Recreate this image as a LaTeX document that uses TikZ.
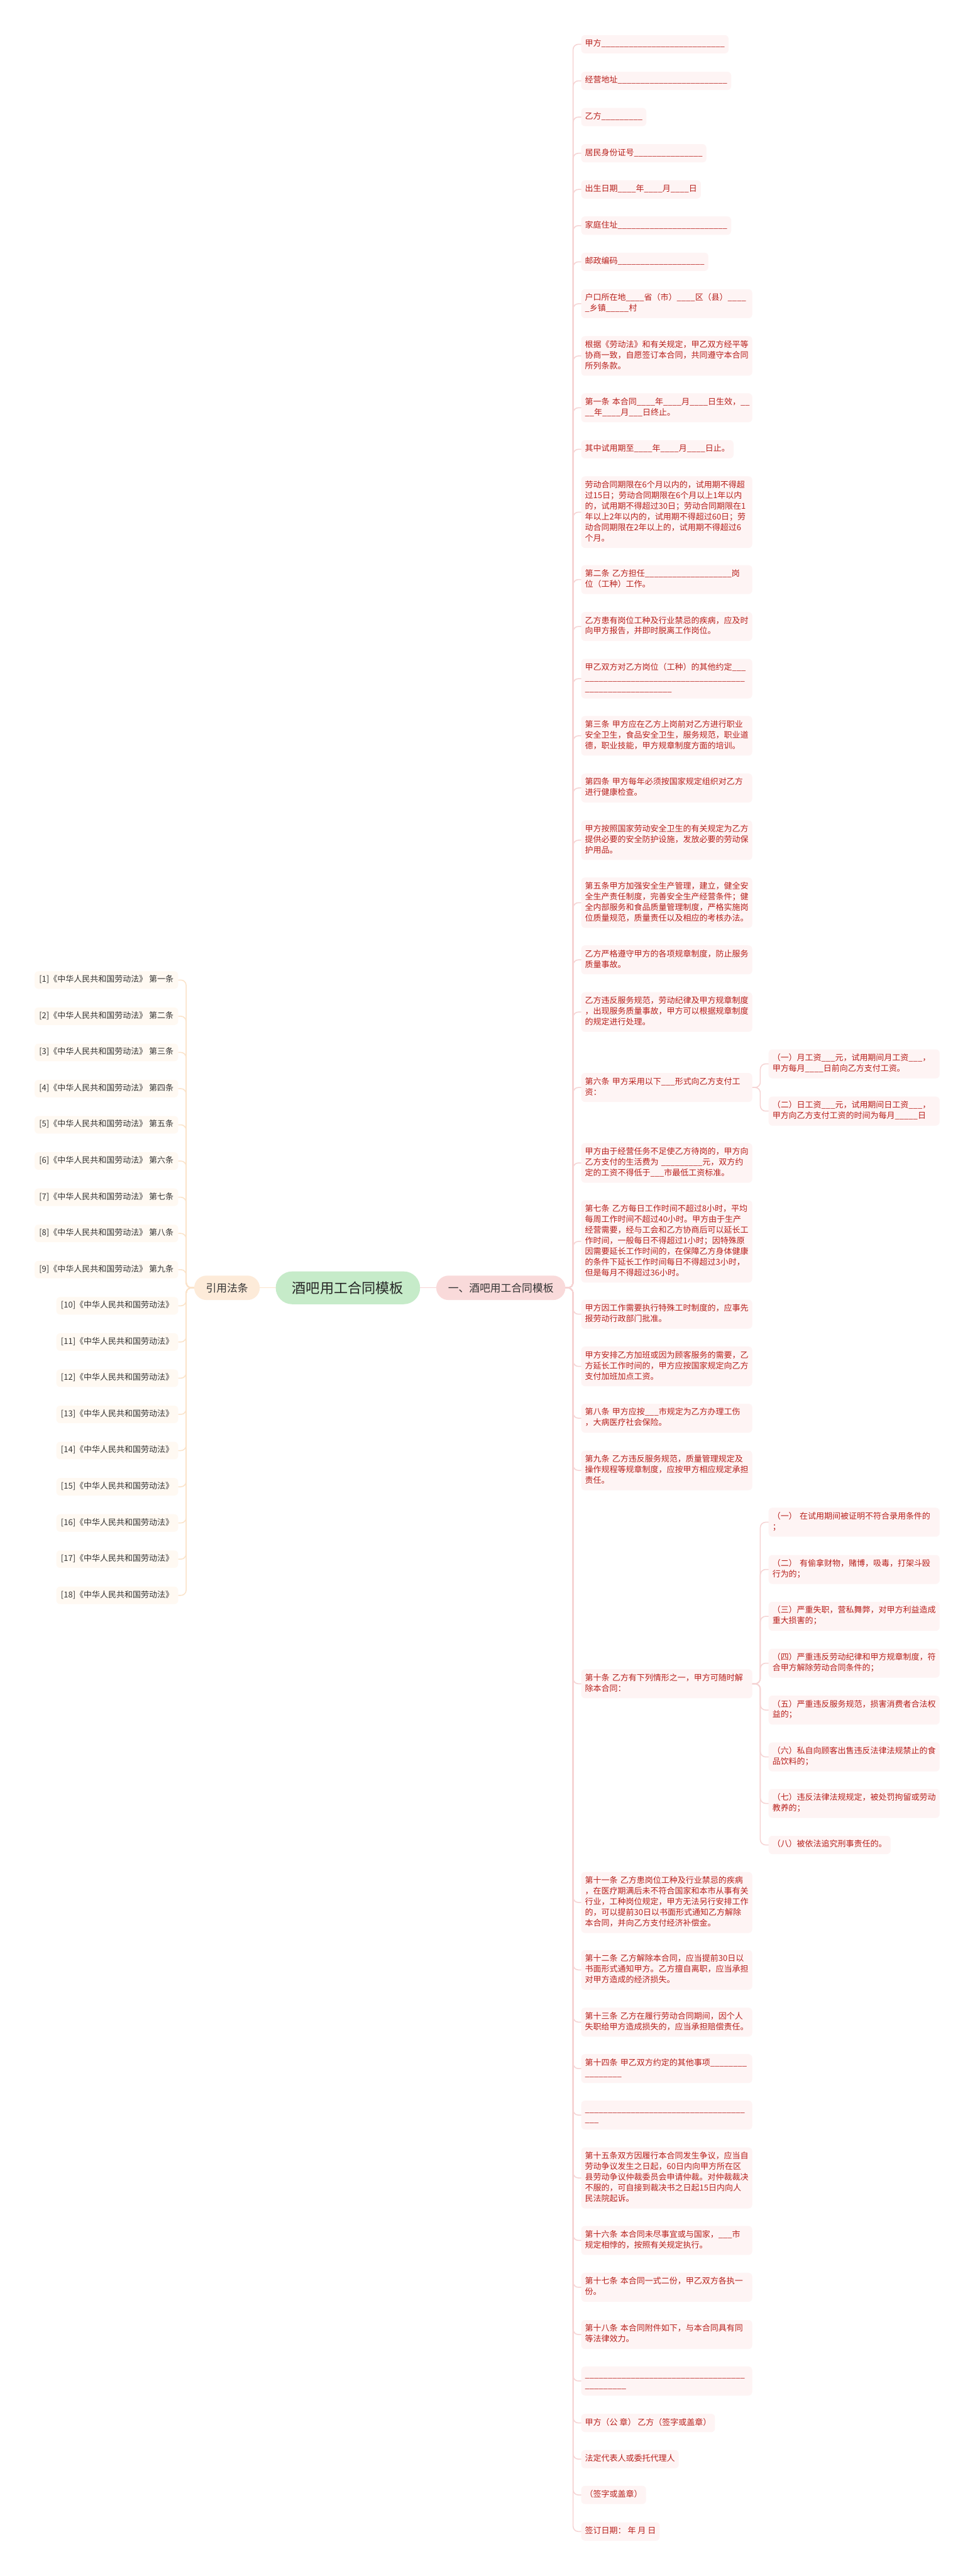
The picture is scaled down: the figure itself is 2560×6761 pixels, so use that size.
\documentclass[tikz,border=0pt]{standalone}
\usepackage{fontspec}
\setmainfont{Noto Sans CJK SC}
\ExplSyntaxOn
\cs_new:Npn \us #1 {\prg_replicate:nn {#1} {\textunderscore}}
\ExplSyntaxOff
\newcommand\nl{\\\strut}
\definecolor{rtxt}{HTML}{B8201C}
\definecolor{rfill}{HTML}{FEF4F4}
\definecolor{rline}{HTML}{F6D3D3}
\definecolor{mainfill}{HTML}{F9DADA}
\definecolor{rootfill}{HTML}{C6EBC9}
\definecolor{citefill}{HTML}{FDEBD9}
\definecolor{lfill}{HTML}{FFF9F2}
\definecolor{lline}{HTML}{FBE3C9}
\definecolor{ltxt}{HTML}{333333}
\tikzset{
  x=1pt, y=-1pt,
  basefont/.style={font=\fontsize{21.45}{28}\selectfont},
  rbox/.style={basefont, text=rtxt, fill=rfill, rounded corners=10pt,
    inner xsep=10pt, inner ysep=10pt, anchor=north west, align=left},
  rwide/.style={rbox, text width=429pt},
  lbox/.style={basefont, text=ltxt, fill=lfill, rounded corners=10pt,
    inner xsep=12pt, inner ysep=9pt, anchor=north east, align=left},
  rconn/.style={draw=rline, line width=2.5pt, rounded corners=14pt},
  lconn/.style={draw=lline, line width=2.5pt, rounded corners=14pt},
  pill/.style={rounded corners=32pt, minimum height=64pt, inner sep=0pt, text=ltxt},
}
\begin{document}
\begin{tikzpicture}
\useasboundingbox[fill=white] (0,0) rectangle (2560,6761);

% central nodes
\node[fill=rootfill, rounded corners=43pt, minimum width=379pt, minimum height=86pt, inner sep=0pt,
  font=\fontsize{36.6}{44}\selectfont, text=black!85] (root) at (913.5,3380) {酒吧用工合同模板};
\node[pill, fill=mainfill, minimum width=339pt, font=\fontsize{27.7}{34}\selectfont] (main) at (1315,3380) {一、酒吧用工合同模板};
\node[pill, fill=citefill, minimum width=172pt, font=\fontsize{27.7}{34}\selectfont] (cite) at (596,3380) {引用法条};

% right column
\node[rbox] (r1) at (1526,92) {\strut 甲方\us{27}};
\node[rbox] (r2) at (1526,188) {\strut 经营地址\us{24}};
\node[rbox] (r3) at (1526,283) {\strut 乙方\us{9}};
\node[rbox] (r4) at (1526,378) {\strut 居民身份证号\us{15}};
\node[rbox] (r5) at (1526,473) {\strut 出生日期\us{4}年\us{4}月\us{4}日};
\node[rbox] (r6) at (1526,568) {\strut 家庭住址\us{24}};
\node[rbox] (r7) at (1526,663) {\strut 邮政编码\us{19}};
\node[rwide] (r8) at (1526,759) {\strut 户口所在地\us{4}省（市）\us{4}区（县）\us{4}\nl\us{1}乡镇\us{5}村};
\node[rwide] (r9) at (1526,882) {\strut 根据《劳动法》和有关规定，甲乙双方经平等\nl 协商一致，自愿签订本合同，共同遵守本合同\nl 所列条款。};
\node[rwide] (r10) at (1526,1032) {\strut 第一条~本合同\us{4}年\us{4}月\us{4}日生效，\us{2}\nl\us{2}年\us{4}月\us{3}日终止。};
\node[rbox] (r11) at (1526,1155) {\strut 其中试用期至\us{4}年\us{4}月\us{4}日止。};
\node[rwide] (r12) at (1526,1250) {\strut 劳动合同期限在6个月以内的，试用期不得超\nl 过15日；劳动合同期限在6个月以上1年以内\nl 的，试用期不得超过30日；劳动合同期限在1\nl 年以上2年以内的，试用期不得超过60日；劳\nl 动合同期限在2年以上的，试用期不得超过6\nl 个月。};
\node[rwide] (r13) at (1526,1483) {\strut 第二条~乙方担任\us{19}岗\nl 位（工种）工作。};
\node[rwide] (r14) at (1526,1606) {\strut 乙方患有岗位工种及行业禁忌的疾病，应及时\nl 向甲方报告，并即时脱离工作岗位。};
\node[rwide] (r15) at (1526,1729) {\strut 甲乙双方对乙方岗位（工种）的其他约定\us{3}\nl\us{35}\nl\us{19}};
\node[rwide] (r16) at (1526,1879) {\strut 第三条~甲方应在乙方上岗前对乙方进行职业\nl 安全卫生，食品安全卫生，服务规范，职业道\nl 德，职业技能，甲方规章制度方面的培训。};
\node[rwide] (r17) at (1526,2030) {\strut 第四条~甲方每年必须按国家规定组织对乙方\nl 进行健康检查。};
\node[rwide] (r18) at (1526,2153) {\strut 甲方按照国家劳动安全卫生的有关规定为乙方\nl 提供必要的安全防护设施，发放必要的劳动保\nl 护用品。};
\node[rwide] (r19) at (1526,2303) {\strut 第五条甲方加强安全生产管理，建立，健全安\nl 全生产责任制度，完善安全生产经营条件；健\nl 全内部服务和食品质量管理制度，严格实施岗\nl 位质量规范，质量责任以及相应的考核办法。};
\node[rwide] (r20) at (1526,2481) {\strut 乙方严格遵守甲方的各项规章制度，防止服务\nl 质量事故。};
\node[rwide] (r21) at (1526,2604) {\strut 乙方违反服务规范，劳动纪律及甲方规章制度\nl ，出现服务质量事故，甲方可以根据规章制度\nl 的规定进行处理。};
\node[rwide] (r22) at (1526,2816) {\strut 第六条~甲方采用以下\us{3}形式向乙方支付工\nl 资：};
\node[rwide] (s6a) at (2018,2754) {\strut （一）月工资\us{3}元，试用期间月工资\us{3}，\nl 甲方每月\us{4}日前向乙方支付工资。};
\node[rwide] (s6b) at (2018,2878) {\strut （二）日工资\us{3}元，试用期间日工资\us{3}，\nl 甲方向乙方支付工资的时间为每月\us{5}日};
\node[rwide] (r23) at (1526,3000) {\strut 甲方由于经营任务不足使乙方待岗的，甲方向\nl 乙方支付的生活费为~\us{9}元，双方约\nl 定的工资不得低于\us{3}市最低工资标准。};
\node[rwide] (r24) at (1526,3150) {\strut 第七条~乙方每日工作时间不超过8小时，平均\nl 每周工作时间不超过40小时。甲方由于生产\nl 经营需要，经与工会和乙方协商后可以延长工\nl 作时间，一般每日不得超过1小时；因特殊原\nl 因需要延长工作时间的，在保障乙方身体健康\nl 的条件下延长工作时间每日不得超过3小时，\nl 但是每月不得超过36小时。};
\node[rwide] (r25) at (1526,3411) {\strut 甲方因工作需要执行特殊工时制度的，应事先\nl 报劳动行政部门批准。};
\node[rwide] (r26) at (1526,3534) {\strut 甲方安排乙方加班或因为顾客服务的需要，乙\nl 方延长工作时间的，甲方应按国家规定向乙方\nl 支付加班加点工资。};
\node[rwide] (r27) at (1526,3684) {\strut 第八条~甲方应按\us{3}市规定为乙方办理工伤\nl ，大病医疗社会保险。};
\node[rwide] (r28) at (1526,3807) {\strut 第九条~乙方违反服务规范，质量管理规定及\nl 操作规程等规章制度，应按甲方相应规定承担\nl 责任。};
\node[rwide] (r29) at (1526,4381) {\strut 第十条~乙方有下列情形之一，甲方可随时解\nl 除本合同：};
\node[rwide] (s10a) at (2018,3957) {\strut （一）~在试用期间被证明不符合录用条件的\nl ；};
\node[rwide] (s10b) at (2018,4081) {\strut （二）~有偷拿财物，赌博，吸毒，打架斗殴\nl 行为的；};
\node[rwide] (s10c) at (2018,4204) {\strut （三）严重失职，营私舞弊，对甲方利益造成\nl 重大损害的；};
\node[rwide] (s10d) at (2018,4327) {\strut （四）严重违反劳动纪律和甲方规章制度，符\nl 合甲方解除劳动合同条件的；};
\node[rwide] (s10e) at (2018,4450) {\strut （五）严重违反服务规范，损害消费者合法权\nl 益的；};
\node[rwide] (s10f) at (2018,4573) {\strut （六）私自向顾客出售违反法律法规禁止的食\nl 品饮料的；};
\node[rwide] (s10g) at (2018,4695) {\strut （七）违反法律法规规定，被处罚拘留或劳动\nl 教养的；};
\node[rbox] (s10h) at (2018,4818) {\strut （八）被依法追究刑事责任的。};
\node[rwide] (r30) at (1526,4913) {\strut 第十一条~乙方患岗位工种及行业禁忌的疾病\nl ，在医疗期满后未不符合国家和本市从事有关\nl 行业，工种岗位规定，甲方无法另行安排工作\nl 的，可以提前30日以书面形式通知乙方解除\nl 本合同，并向乙方支付经济补偿金。};
\node[rwide] (r31) at (1526,5118) {\strut 第十二条~乙方解除本合同，应当提前30日以\nl 书面形式通知甲方。乙方擅自离职，应当承担\nl 对甲方造成的经济损失。};
\node[rwide] (r32) at (1526,5269) {\strut 第十三条~乙方在履行劳动合同期间，因个人\nl 失职给甲方造成损失的，应当承担赔偿责任。};
\node[rwide] (r33) at (1526,5391) {\strut 第十四条~甲乙双方约定的其他事项\us{8}\nl\us{8}};
\node[rwide] (r34) at (1526,5513) {\strut\us{35}\nl\us{3}};
\node[rwide] (r35) at (1526,5636) {\strut 第十五条双方因履行本合同发生争议，应当自\nl 劳动争议发生之日起，60日内向甲方所在区\nl 县劳动争议仲裁委员会申请仲裁。对仲裁裁决\nl 不服的，可自接到裁决书之日起15日内向人\nl 民法院起诉。};
\node[rwide] (r36) at (1526,5842) {\strut 第十六条~本合同未尽事宜或与国家，\us{3}市\nl 规定相悖的，按照有关规定执行。};
\node[rwide] (r37) at (1526,5965) {\strut 第十七条~本合同一式二份，甲乙双方各执一\nl 份。};
\node[rwide] (r38) at (1526,6089) {\strut 第十八条~本合同附件如下，与本合同具有同\nl 等法律效力。};
\node[rwide] (r39) at (1526,6211) {\strut\us{35}\nl\us{9}};
\node[rbox] (r40) at (1526,6335) {\strut 甲方（公~章）~乙方（签字或盖章）};
\node[rbox] (r41) at (1526,6430) {\strut 法定代表人或委托代理人};
\node[rbox] (r42) at (1526,6524) {\strut （签字或盖章）};
\node[rbox] (r43) at (1526,6620) {\strut 签订日期：~年~月~日};

% left column
\foreach \i/\t in {1/第一条,2/第二条,3/第三条,4/第四条,5/第五条,6/第六条,7/第七条,8/第八条,9/第九条}{
  \node[lbox] (l\i) at (468,{2549+95*(\i-1)}) {\strut[\i]《中华人民共和国劳动法》~\t};
}
\foreach \i in {10,...,18}{
  \node[lbox] (l\i) at (468,{2549+95*(\i-1)}) {\strut[\i]《中华人民共和国劳动法》};
}

% connectors
\foreach \i in {1,...,43}{
  \draw[rconn] (main.east) -- ++(20,0) |- (r\i.west);
}
\foreach \n in {s6a,s6b}{
  \draw[rconn] (r22.east) -- ++(21,0) |- (\n.west);
}
\foreach \n in {s10a,s10b,s10c,s10d,s10e,s10f,s10g,s10h}{
  \draw[rconn] (r29.east) -- ++(21,0) |- (\n.west);
}
\foreach \i in {1,...,18}{
  \draw[lconn] (cite.west) -- ++(-21,0) |- (l\i.east);
}
\draw[rconn] (root.east) -- (main.west);
\draw[lconn] (root.west) -- (cite.east);
\end{tikzpicture}
\end{document}
